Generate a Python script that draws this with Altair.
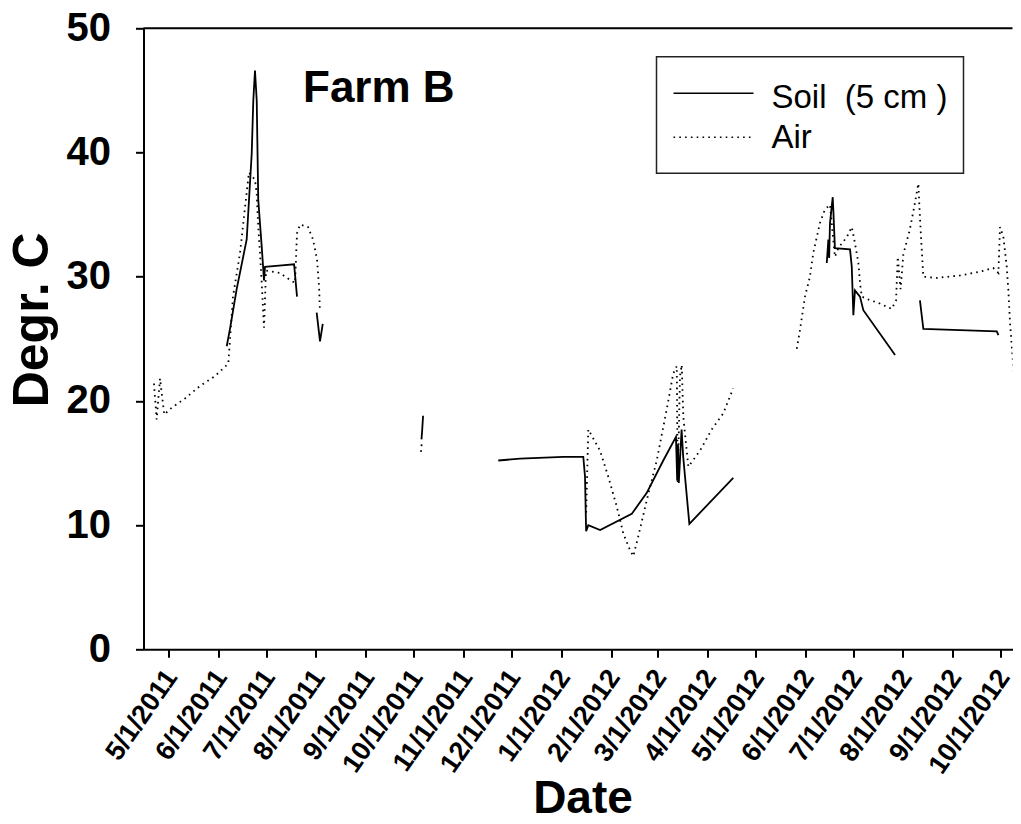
import altair as alt
import pandas as pd

# ---------------- data ----------------
soil_dates = [
    "2011-06-06T10:00", "2011-06-08T11:00", "2011-06-12T15:00", "2011-06-18T21:00",
    "2011-06-22T00:00", "2011-06-23T00:00", "2011-06-24T01:00", "2011-06-25T03:00",
    "2011-06-26T02:00", "2011-06-28T06:00", "2011-06-29T06:00", "2011-06-29T16:00",
    "2011-06-30T07:00", "2011-07-09T00:00", "2011-07-18T10:00", "2011-07-20T06:00",
    "2011-08-01T12:00", "2011-08-03T14:00", "2011-08-05T07:00",
    "2011-10-05T20:00", "2011-10-06T06:00", "2011-10-06T20:00",
    "2011-11-22T17:00", "2011-12-06T07:00", "2012-01-02T07:00", "2012-01-14T17:00",
    "2012-01-15T19:00", "2012-01-16T06:00", "2012-01-16T12:00", "2012-01-17T20:00",
    "2012-01-25T05:00", "2012-02-13T22:00", "2012-02-23T07:00", "2012-03-04T14:00",
    "2012-03-12T12:00", "2012-03-13T06:00", "2012-03-13T18:00", "2012-03-14T06:00",
    "2012-03-16T00:00", "2012-03-17T00:00", "2012-03-20T20:00", "2012-04-17T05:00",
    "2012-06-14T12:00", "2012-06-15T12:00", "2012-06-16T00:00", "2012-06-16T12:00",
    "2012-06-18T05:00", "2012-06-18T14:00", "2012-06-19T14:00", "2012-06-29T00:00",
    "2012-06-30T02:00", "2012-07-01T02:00", "2012-07-02T02:00", "2012-07-05T05:00",
    "2012-07-07T07:00", "2012-07-27T02:00",
    "2012-08-11T14:00", "2012-08-13T17:00", "2012-09-05T14:00", "2012-09-28T12:00",
    "2012-09-29T12:00",
]
soil_values = [
    24.4, 25.8, 29.0, 33.0,
    39.9, 44.2, 46.6, 44.2,
    36.2, 32.4, 30.5, 29.7,
    30.8, 30.9, 31.0, 28.4,
    27.1, 24.8, 26.2,
    16.9, 17.6, 18.8,
    15.2, 15.35, 15.5, 15.5,
    13.9, 10.9, 9.5, 10.0,
    9.6, 10.9, 12.6, 15.2,
    17.1, 13.6, 16.5, 13.4,
    17.7, 15.5, 10.1, 13.8,
    31.1, 33.0, 31.5, 34.3,
    36.4, 35.4, 32.3, 32.2,
    30.8, 26.9, 28.9, 28.4,
    27.3, 23.7,
    28.1, 25.8, 25.7, 25.6,
    25.3,
]
soil_segments = [1] * 16 + [2] * 3 + [3] * 3 + [4] * 20 + [5] * 14 + [6] * 5

air_dates = [
    "2011-04-22T02:00", "2011-04-23T18:00", "2011-04-25T20:00", "2011-04-28T12:00",
    "2011-05-02T16:00", "2011-05-11T10:00", "2011-05-20T18:00", "2011-05-30T03:00",
    "2011-06-07T10:00", "2011-06-10T08:00", "2011-06-14T17:00", "2011-06-17T20:00",
    "2011-06-20T07:00", "2011-06-24T01:00", "2011-06-25T03:00", "2011-06-26T02:00",
    "2011-06-27T04:00", "2011-06-28T06:00", "2011-06-29T16:00", "2011-06-30T22:00",
    "2011-07-09T15:00", "2011-07-14T00:00", "2011-07-19T00:00", "2011-07-20T06:00",
    "2011-07-22T03:00", "2011-07-27T02:00", "2011-07-30T05:00", "2011-08-01T17:00",
    "2011-08-03T00:00", "2011-08-03T12:00",
    "2011-10-05T12:00", "2011-10-06T00:00",
    "2012-01-16T12:00", "2012-01-17T20:00", "2012-01-25T03:00", "2012-01-30T07:00",
    "2012-02-04T14:00", "2012-02-08T17:00", "2012-02-12T19:00", "2012-02-14T22:00",
    "2012-02-18T00:00", "2012-02-23T07:00", "2012-02-29T12:00", "2012-03-06T17:00",
    "2012-03-10T19:00", "2012-03-13T00:00", "2012-03-13T14:00", "2012-03-15T00:00",
    "2012-03-16T02:00", "2012-03-17T02:00", "2012-03-20T05:00", "2012-03-27T12:00",
    "2012-04-03T19:00", "2012-04-11T00:00", "2012-04-16T05:00", "2012-04-17T05:00",
    "2012-05-26T19:00", "2012-05-28T19:00", "2012-05-31T22:00", "2012-06-04T00:00",
    "2012-06-06T02:00", "2012-06-10T05:00", "2012-06-13T07:00", "2012-06-16T12:00",
    "2012-06-19T14:00", "2012-06-21T17:00", "2012-06-27T00:00", "2012-06-30T02:00",
    "2012-07-02T02:00", "2012-07-04T05:00", "2012-07-05T05:00", "2012-07-06T07:00",
    "2012-07-11T12:00", "2012-07-16T14:00", "2012-07-25T00:00", "2012-07-27T17:00",
    "2012-07-28T18:00", "2012-07-30T12:00", "2012-08-01T06:00", "2012-08-05T07:00",
    "2012-08-08T10:00", "2012-08-10T14:00", "2012-08-11T14:00", "2012-08-12T17:00",
    "2012-08-13T17:00", "2012-08-22T00:00", "2012-09-05T14:00", "2012-09-18T00:00",
    "2012-09-26T07:00", "2012-09-29T12:00", "2012-09-30T12:00", "2012-10-02T14:00",
    "2012-10-04T17:00", "2012-10-05T17:00", "2012-10-06T19:00", "2012-10-08T19:00",
    "2012-10-10T22:00",
]
air_values = [
    21.4, 18.5, 21.8, 18.9,
    19.4, 20.2, 21.2, 22.0,
    23.0, 28.4, 31.9, 35.6,
    38.4, 37.8, 36.7, 34.0,
    31.9, 29.5, 25.9, 30.5,
    30.3, 29.9, 29.5, 33.5,
    34.2, 34.0, 33.0, 31.4,
    29.2, 27.3,
    15.9, 16.6,
    11.0, 17.7, 16.0, 13.9,
    11.5, 9.3, 8.0, 7.5,
    9.1, 12.0, 15.2, 19.3,
    22.2, 22.8, 13.4, 22.0,
    22.9, 18.7, 14.7, 16.0,
    17.7, 19.0, 20.7, 21.0,
    24.2, 25.7, 28.4, 30.0,
    31.9, 34.3, 35.4, 35.8,
    31.6, 32.3, 33.2, 34.0,
    32.7, 31.1, 29.5, 28.4,
    28.1, 27.9, 27.4, 28.1,
    31.6, 29.0, 31.8, 33.8,
    35.9, 37.5, 34.8, 32.2,
    30.0, 29.9, 30.1, 30.4,
    30.7, 30.3, 34.0, 33.2,
    30.8, 28.9, 26.2, 22.8,
    19.8,
]
air_segments = [1] * 30 + [2] * 2 + [3] * 24 + [4] * 41

series_names = ["Soil\u00a0\u00a0(5\u00a0cm\u00a0)", "Air"]
tick_months = [(2011, m) for m in range(5, 13)] + [(2012, m) for m in range(1, 11)]
y_ticks = [0, 10, 20, 30, 40, 50]
panel_title = "Farm B"

# ---------------- tables ----------------
soil_df = pd.DataFrame({"date": soil_dates, "value": soil_values,
                        "seg": [f"s{s}" for s in soil_segments]})
soil_df["order"] = range(len(soil_df))
air_df = pd.DataFrame({"date": air_dates, "value": air_values,
                       "seg": [f"a{s}" for s in air_segments]})
air_df["order"] = range(len(air_df))

FONT = "Liberation Sans"
W, H = 869, 621

x_enc = alt.X(
    "date:T",
    title="Date",
    scale=alt.Scale(domain=[alt.DateTime(year=2011, month=4, date=15, hours=13),
                            alt.DateTime(year=2012, month=10, date=8, hours=7)]),
    axis=alt.Axis(
        values=[alt.DateTime(year=y, month=m, date=1) for y, m in tick_months],
        format="%-m/%-d/%Y", labelAngle=-55, labelAlign="right", labelBaseline="middle",
        labelFontSize=27, labelFontWeight="bold", labelFont=FONT, labelColor="black",
        labelPadding=15, labelOffset=3, labelFlush=False, labelOverlap=False,
        tickSize=8, tickWidth=2, tickColor="black", domainWidth=2, domainColor="black",
        grid=False, titleFont=FONT, titleFontSize=46, titleFontWeight="bold",
        titleColor="black", titleX=439, titleY=163, titleBaseline="alphabetic",
        titleAlign="center",
    ),
)
y_enc = alt.Y(
    "value:Q",
    title="Degr. C",
    scale=alt.Scale(domain=[0, 50], nice=False),
    axis=alt.Axis(
        values=y_ticks, labelFontSize=40, labelFontWeight="bold", labelFont=FONT,
        labelColor="black", labelPadding=25, labelFlush=False,
        tickSize=8, tickWidth=2, tickColor="black", domainWidth=2, domainColor="black",
        grid=False, titleFont=FONT, titleFontSize=50, titleFontWeight="bold",
        titleColor="black", titleAngle=-90, titleX=-96, titleY=291,
        titleBaseline="alphabetic", titleAlign="center",
    ),
)

soil = alt.Chart(soil_df).mark_line(color="black", strokeWidth=1.8, clip=True).encode(
    x=x_enc, y=y_enc, detail="seg:N", order="order:Q")
air = alt.Chart(air_df).mark_line(color="black", strokeWidth=1.8, strokeDash=[1.6, 4.2],
                                  clip=True).encode(
    x=x_enc, y=y_enc, detail="seg:N", order="order:Q")

one = pd.DataFrame({"k": [0]})
top_border = alt.Chart(one).mark_rule(color="black", strokeWidth=2).encode(
    x=alt.value(0), x2=alt.value(W), y=alt.value(0))

title_txt = alt.Chart(one).mark_text(
    text=panel_title, font=FONT, fontSize=44, fontWeight="bold", align="left",
    baseline="alphabetic", color="black").encode(x=alt.value(159.5), y=alt.value(73.5))

legend_box = alt.Chart(one).mark_rect(fill="white", stroke="#222", strokeWidth=1.5).encode(
    x=alt.value(513), x2=alt.value(820), y=alt.value(28.5), y2=alt.value(145))
leg_soil_line = alt.Chart(one).mark_rule(color="black", strokeWidth=1.6).encode(
    x=alt.value(530), x2=alt.value(610), y=alt.value(65))
leg_air_line = alt.Chart(one).mark_rule(color="black", strokeWidth=1.6,
                                        strokeDash=[1.6, 4.2]).encode(
    x=alt.value(530), x2=alt.value(610), y=alt.value(109))
leg_soil_txt = alt.Chart(one).mark_text(
    text=series_names[0], font=FONT, fontSize=33, align="left", baseline="alphabetic",
    color="black").encode(x=alt.value(628), y=alt.value(80))
leg_air_txt = alt.Chart(one).mark_text(
    text=series_names[1], font=FONT, fontSize=33, align="left", baseline="alphabetic",
    color="black").encode(x=alt.value(628), y=alt.value(120))

chart = alt.layer(
    air, soil, top_border, title_txt, legend_box, leg_soil_line, leg_air_line,
    leg_soil_txt, leg_air_txt,
).properties(
    width=W, height=H,
    autosize=alt.AutoSizeParams(type="none"),
    padding={"left": 135.5, "top": 20.3, "right": 0, "bottom": 166.7},
    background="white",
).configure_view(stroke=None)

chart.save("out.html", embed_options={"renderer": "svg", "actions": False})
